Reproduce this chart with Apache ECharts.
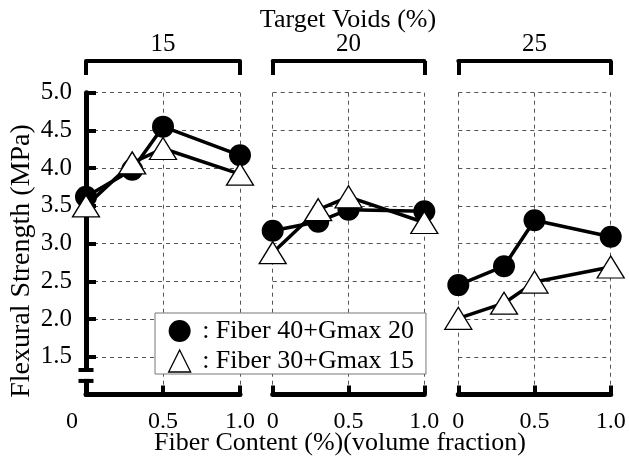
<!DOCTYPE html>
<html><head><meta charset="utf-8">
<script src="https://cdn.jsdelivr.net/npm/echarts@6/dist/echarts.min.js"></script>
<style>html,body{margin:0;padding:0;background:#fff}#c{width:629px;height:461px}</style>
</head><body><div id="c"></div>
<script>
// ---- data ----
const fiberContent = [0, 0.3, 0.5, 1.0];
const targetVoids = ['15', '20', '25'];
const seriesNames = ['Fiber 40+Gmax 20', 'Fiber 30+Gmax 15'];
const fiber40_v15 = [3.62, 3.98, 4.55, 4.17];
const fiber40_v20 = [3.17, 3.29, 3.45, 3.43];
const fiber40_v25 = [2.45, 2.70, 3.31, 3.09];
const fiber30_v15 = [3.50, 4.07, 4.26, 3.92];
const fiber30_v20 = [2.88, 3.45, 3.62, 3.28];
const fiber30_v25 = [2.01, 2.21, 2.49, 2.69];
const xTickLabels = ['0', '0.5', '1.0'];
const yTickLabels = ['1.0', '1.5', '2.0', '2.5', '3.0', '3.5', '4.0', '4.5', '5.0'];
const titleTop = 'Target Voids (%)';
const titleX = 'Fiber Content (%)(volume fraction)';
const titleY = 'Flexural Strength (MPa)';

const circles = [fiber40_v15, fiber40_v20, fiber40_v25];
const triangles = [fiber30_v15, fiber30_v20, fiber30_v25];

// ---- layout ----
const FONT = 'Liberation Serif';
const panels = [{left: 86, width: 154}, {left: 272.7, width: 151.6}, {left: 458.3, width: 152.4}];
const GTOP = 92.7, GH = 301.8;
const gridLine = {show: true, lineStyle: {color: '#555', width: 1, type: [4, 4]}};
const txt = {fontFamily: FONT, color: '#000'};

const grid = [], xAxis = [], yAxis = [], series = [];
panels.forEach((p, i) => {
  grid.push({left: p.left, width: p.width, top: GTOP, height: GH});
  xAxis.push({
    type: 'value', gridIndex: i, min: 0, max: 1, interval: 0.5, position: 'bottom',
    axisLine: {show: true, lineStyle: {color: '#000', width: 5}},
    axisTick: {show: true, inside: true, length: 9, lineStyle: {color: '#000', width: 4}},
    axisLabel: {
      margin: 15, fontSize: 24, ...txt,
      formatter: v => {
        const s = xTickLabels[Math.round(v / 0.5)];
        return (i === 0 && v === 0) ? '{l|' + s + '}' : s;
      },
      rich: {l: {fontSize: 24, fontFamily: FONT, color: '#000', padding: [0, 28, 0, 0]}}
    },
    splitLine: gridLine
  });
  xAxis.push({
    type: 'value', gridIndex: i, min: 0, max: 1, interval: 1, position: 'top', offset: 31.7,
    axisLine: {show: true, lineStyle: {color: '#000', width: 4}},
    axisTick: {show: true, inside: true, length: 14, lineStyle: {color: '#000', width: 4}},
    axisLabel: {show: false}, splitLine: {show: false},
    name: targetVoids[i], nameLocation: 'middle', nameGap: 4,
    nameTextStyle: {fontSize: 25, ...txt}
  });
  yAxis.push({
    type: 'value', gridIndex: i, min: 1, max: 5, interval: 0.5,
    axisLine: {show: i === 0, lineStyle: {color: '#000', width: 5}},
    axisTick: {show: i === 0, inside: true, length: 10, lineStyle: {color: '#000', width: 4}},
    axisLabel: {
      show: i === 0, showMinLabel: false, margin: 14, fontSize: 25, ...txt,
      formatter: v => yTickLabels[Math.round((v - 1) / 0.5)]
    },
    splitLine: gridLine
  });
  series.push({
    type: 'line', name: seriesNames[0], xAxisIndex: 2 * i, yAxisIndex: i,
    data: fiberContent.map((x, k) => [x, circles[i][k]]),
    symbol: 'circle', symbolSize: 22,
    lineStyle: {color: '#000', width: 3.5}, itemStyle: {color: '#000'}, z: 3
  });
  series.push({
    type: 'line', name: seriesNames[1], xAxisIndex: 2 * i, yAxisIndex: i,
    data: fiberContent.map((x, k) => [x, triangles[i][k]]),
    symbol: 'triangle', symbolSize: [27, 22],
    lineStyle: {color: '#000', width: 3.5},
    itemStyle: {color: '#fff', borderColor: '#000', borderWidth: 1.3}, z: 4
  });
});

const chart = echarts.init(document.getElementById('c'), null, {renderer: 'canvas'});
chart.setOption({
  animation: false,
  backgroundColor: '#fff',
  grid, xAxis, yAxis, series,
  legend: {
    orient: 'vertical', left: 155, top: 313, padding: [5, 12, 0, 13], itemGap: 4,
    itemWidth: 22, itemHeight: 22, backgroundColor: '#fff', borderColor: '#777', borderWidth: 1,
    selectedMode: false, z: 10,
    textStyle: {fontSize: 26, ...txt},
    formatter: n => ' : ' + n,
    data: [
      {name: seriesNames[0], icon: 'circle', itemStyle: {color: '#000'}},
      {name: seriesNames[1], icon: 'triangle', itemStyle: {color: '#fff', borderColor: '#000', borderWidth: 1.3}}
    ]
  }
});

// axis break on the left axis + titles
const pTop = chart.convertToPixel({xAxisIndex: 0, yAxisIndex: 0}, [0, 1.325]);
const pBot = chart.convertToPixel({xAxisIndex: 0, yAxisIndex: 0}, [0, 1.18]);
const ax = pTop[0];
chart.setOption({
  graphic: [
    {type: 'rect', z: 100, shape: {x: ax - 4, y: pTop[1] + 2, width: 8, height: pBot[1] - pTop[1] - 4}, style: {fill: '#fff'}},
    {type: 'rect', z: 100, shape: {x: ax - 7.5, y: pTop[1] - 2, width: 15, height: 4}, style: {fill: '#000'}},
    {type: 'rect', z: 100, shape: {x: ax - 7.5, y: pBot[1] - 2, width: 15, height: 4}, style: {fill: '#000'}},
    {type: 'text', z: 100, x: 348, y: 20, style: {text: titleTop, fontSize: 26, fontFamily: FONT, fill: '#000', align: 'center', verticalAlign: 'middle'}},
    {type: 'text', z: 100, x: 340, y: 443, style: {text: titleX, fontSize: 26, fontFamily: FONT, fill: '#000', align: 'center', verticalAlign: 'middle'}},
    {type: 'text', z: 100, x: 22, y: 261, rotation: Math.PI / 2, style: {text: titleY, fontSize: 28, fontFamily: FONT, fill: '#000', align: 'center', verticalAlign: 'middle'}}
  ]
});
</script></body></html>
